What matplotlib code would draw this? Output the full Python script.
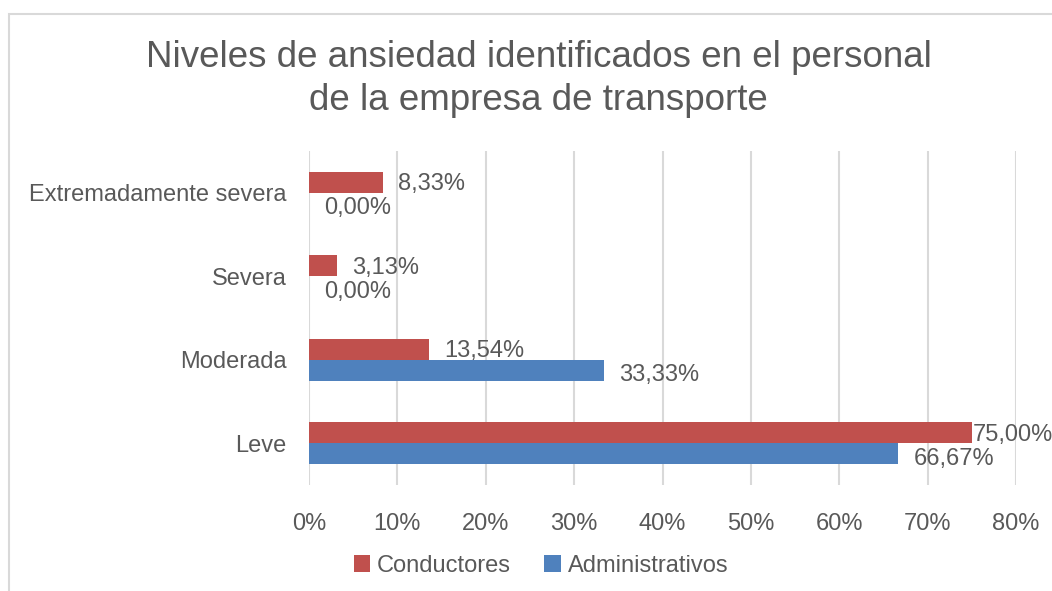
import numpy as np
import matplotlib.pyplot as plt
from matplotlib.patches import Rectangle

plt.rcParams["font.family"] = ["Liberation Sans", "DejaVu Sans"]

categorias = ["Leve", "Moderada", "Severa", "Extremadamente severa"]
conductores = [75.00, 13.54, 3.13, 8.33]
administrativos = [66.67, 33.33, 0.00, 0.00]
ticks_x = [0, 10, 20, 30, 40, 50, 60, 70, 80]

rojo = "#C0504D"
azul = "#4F81BD"
gris_texto = "#595959"
gris_linea = "#D9D9D9"

fig = plt.figure(figsize=(10.52, 5.91), dpi=100)
ax = fig.add_axes([309 / 1052, 1 - 485 / 591, 707 / 1052, 334 / 591])

y = np.arange(len(categorias))
h = 0.25
b1 = ax.barh(y + h / 2, conductores, height=h, color=rojo, label="Conductores", zorder=2)
b2 = ax.barh(y - h / 2, administrativos, height=h, color=azul, label="Administrativos", zorder=2)

def etiqueta(v):
    return f"{v:.2f}".replace(".", ",") + "%"

xmax = ticks_x[-1]
for barras, vals, dy in [(b1, conductores, -1.5), (b2, administrativos, -3.5)]:
    for rect, v in zip(barras, vals):
        off = 11 if v < 0.9 * xmax else 1
        ax.annotate(etiqueta(v), (v, rect.get_y() + rect.get_height() / 2),
                    xytext=(off, dy), textcoords="offset points",
                    ha="left", va="center", fontsize=17, color=gris_texto,
                    annotation_clip=False, zorder=3)

ax.set_xlim(0, xmax)
ax.set_ylim(-0.5, len(categorias) - 0.5)
ax.set_xticks(ticks_x)
ax.set_xticklabels([f"{t}%" for t in ticks_x])
ax.set_yticks(y)
ax.set_yticklabels(categorias)
ax.tick_params(axis="both", length=0, labelsize=17, colors=gris_texto)
ax.tick_params(axis="x", pad=20)
ax.tick_params(axis="y", pad=16)
ax.grid(axis="x", color=gris_linea, linewidth=1.5, zorder=0)
for s in ax.spines.values():
    s.set_visible(False)

fig.text(0.512, 1 - 79 / 591,
         "Niveles de ansiedad identificados en el personal\nde la empresa de transporte",
         ha="center", va="center", fontsize=26.5, color=gris_texto, linespacing=1.27)

leg = fig.legend(handles=[b1, b2], loc="center", bbox_to_anchor=(541 / 1052, 1 - 566 / 591),
                 ncol=2, frameon=False, fontsize=17, labelcolor=gris_texto,
                 handlelength=0.7, handleheight=0.7, handletextpad=0.3, columnspacing=1.4)

fig.patches.append(Rectangle((9 / 1052, -0.1), 1.2, 1 - 14 / 591 + 0.1,
                             transform=fig.transFigure, fill=False,
                             edgecolor=gris_linea, linewidth=1.5))

fig.savefig("out.png", dpi=100)
